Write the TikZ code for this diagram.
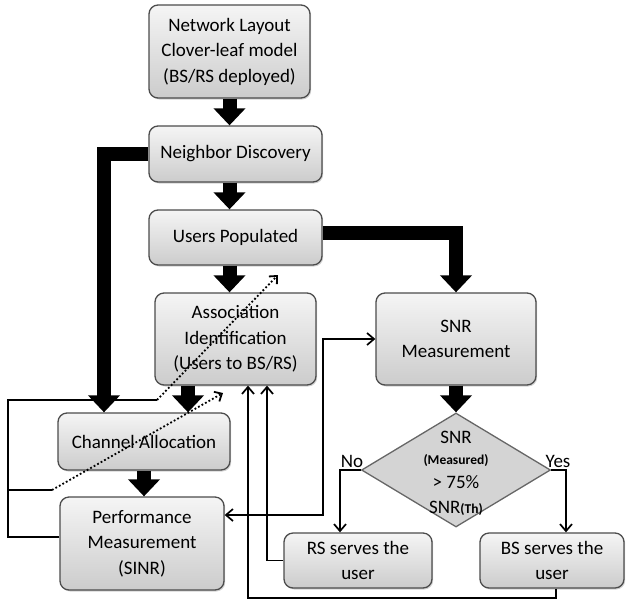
\documentclass[tikz,border=0pt]{standalone}
\usepackage{fontspec}
\setmainfont{Carlito}
\usetikzlibrary{arrows.meta,shapes.geometric,shadows}
\begin{document}
\begin{tikzpicture}[x=1pt,y=-1pt,
  box/.style={draw=black!70, line width=1.3pt, rounded corners=9pt,
    top color=black!4, bottom color=black!20, align=center, inner sep=0pt,
    font=\fontsize{19}{25.5}\selectfont,
    drop shadow={shadow xshift=1.2pt, shadow yshift=-1.5pt, opacity=0.35}},
  big/.style={line width=14pt, draw=black, line join=miter,
    -{Triangle[length=17pt,width=31pt]}},
  thinline/.style={line width=1.7pt, draw=black},
  thinarr/.style={thinline, -{Straight Barb[length=7pt,width=12pt]}},
  dotarr/.style={line width=1.8pt, dash pattern=on 1.8pt off 2.2pt,
    -{Straight Barb[length=6pt,width=11pt]}},
  lbl/.style={font=\fontsize{19}{20}\selectfont, inner sep=0pt},
  small/.style={font=\fontsize{13.5}{14}\selectfont\bfseries, inner sep=0pt}
]
\useasboundingbox (0,0) rectangle (628,608);

% boxes
\node[box, minimum width=161pt, minimum height=93pt] (NL) at (229.5,51.5)
  {Network Layout\\Clover-leaf model\\(BS/RS deployed)};
\node[box, minimum width=173pt, minimum height=56pt] (ND) at (235.5,154) {Neighbor Discovery};
\node[box, minimum width=173pt, minimum height=55pt] (UP) at (235.5,237.5) {Users Populated};
\node[box, minimum width=161pt, minimum height=92pt] (AI) at (235.5,339)
  {Association\\Identification\\(Users to BS/RS)};
\node[box, minimum width=160pt, minimum height=92pt] (SNR) at (456,339) {SNR\\Measurement};
\node[box, minimum width=172pt, minimum height=57pt] (CA) at (144,441.5) {Channel Allocation};
\node[box, minimum width=164pt, minimum height=93pt] (PM) at (142,543.5)
  {Performance\\Measurement\\(SINR)};
\node[box, minimum width=148pt, minimum height=55pt] (RS) at (358,560.5) {RS serves the\\user};
\node[box, minimum width=144pt, minimum height=55pt] (BS) at (552,560.5) {BS serves the\\user};

% decision
\node[diamond, draw=black!60, line width=1.3pt, fill=black!17, inner sep=0pt,
  minimum width=189pt, minimum height=114pt] (D) at (456,470) {};
\node[lbl, anchor=base] (d1) at (456,443) {SNR};
\node[small, anchor=base] (d2) at (456,464) {(Measured)};
\node[lbl, anchor=base] (d3) at (456,488) {> 75\%};
\node[lbl, anchor=base] (d4) at (456,513) {SNR{\fontsize{13.5}{14}\selectfont\bfseries(Th)}};
\node[lbl] (no) at (352,461) {No};
\node[lbl] (yes) at (558,461) {Yes};

% helper coordinates
\coordinate (xL) at (104,0);
\coordinate (xA) at (188,0);
\coordinate (xM) at (323,0);
\coordinate (fl) at (8,0);
\coordinate (f1) at (157,400);
\coordinate (f2) at (52,490);
\coordinate (t1) at (278,275);
\coordinate (t2) at (223,393);

% thick arrows
\draw[big] (NL.south) -- (NL.south |- ND.north);
\draw[big] (ND.south -| NL.south) -- (UP.north -| NL.south);
\draw[big] (UP.south -| NL.south) -- (AI.north -| NL.south);
\draw[big] (ND.west) -| (xL |- CA.north);
\draw[big] (AI.south -| xA) -- (CA.north -| xA);
\draw[big] (CA.south) -- (CA.south |- PM.north);
\draw[big] ([yshift=5pt]UP.east) -| (SNR.north);
\draw[big] (SNR.south) -- (D.north);

% thin arrows
\draw[thinarr] (D.west) -| ([xshift=-18pt]RS.north);
\draw[thinarr] (D.east) -| ([xshift=14pt]BS.north);
\draw[thinarr] (RS.west) -| ([xshift=31.5pt]AI.south);
\draw[thinarr] ([xshift=4pt]BS.south) -- ++(0,9) -| ([xshift=12.5pt]AI.south);
\draw[thinarr, {Straight Barb[length=7pt,width=12pt]}-{Straight Barb[length=7pt,width=12pt]}]
  ([yshift=28.5pt]PM.east) -| (xM |- SNR.west) -- (SNR.west);

% feedback loops
\draw[thinline] ([yshift=6.5pt]PM.west) -| (fl |- f1) -- (f1);
\draw[thinline] (fl |- f2) -- (f2);
\draw[dotarr] (f1) -- (t1);
\draw[dotarr] (f2) -- (t2);
\end{tikzpicture}
\end{document}
